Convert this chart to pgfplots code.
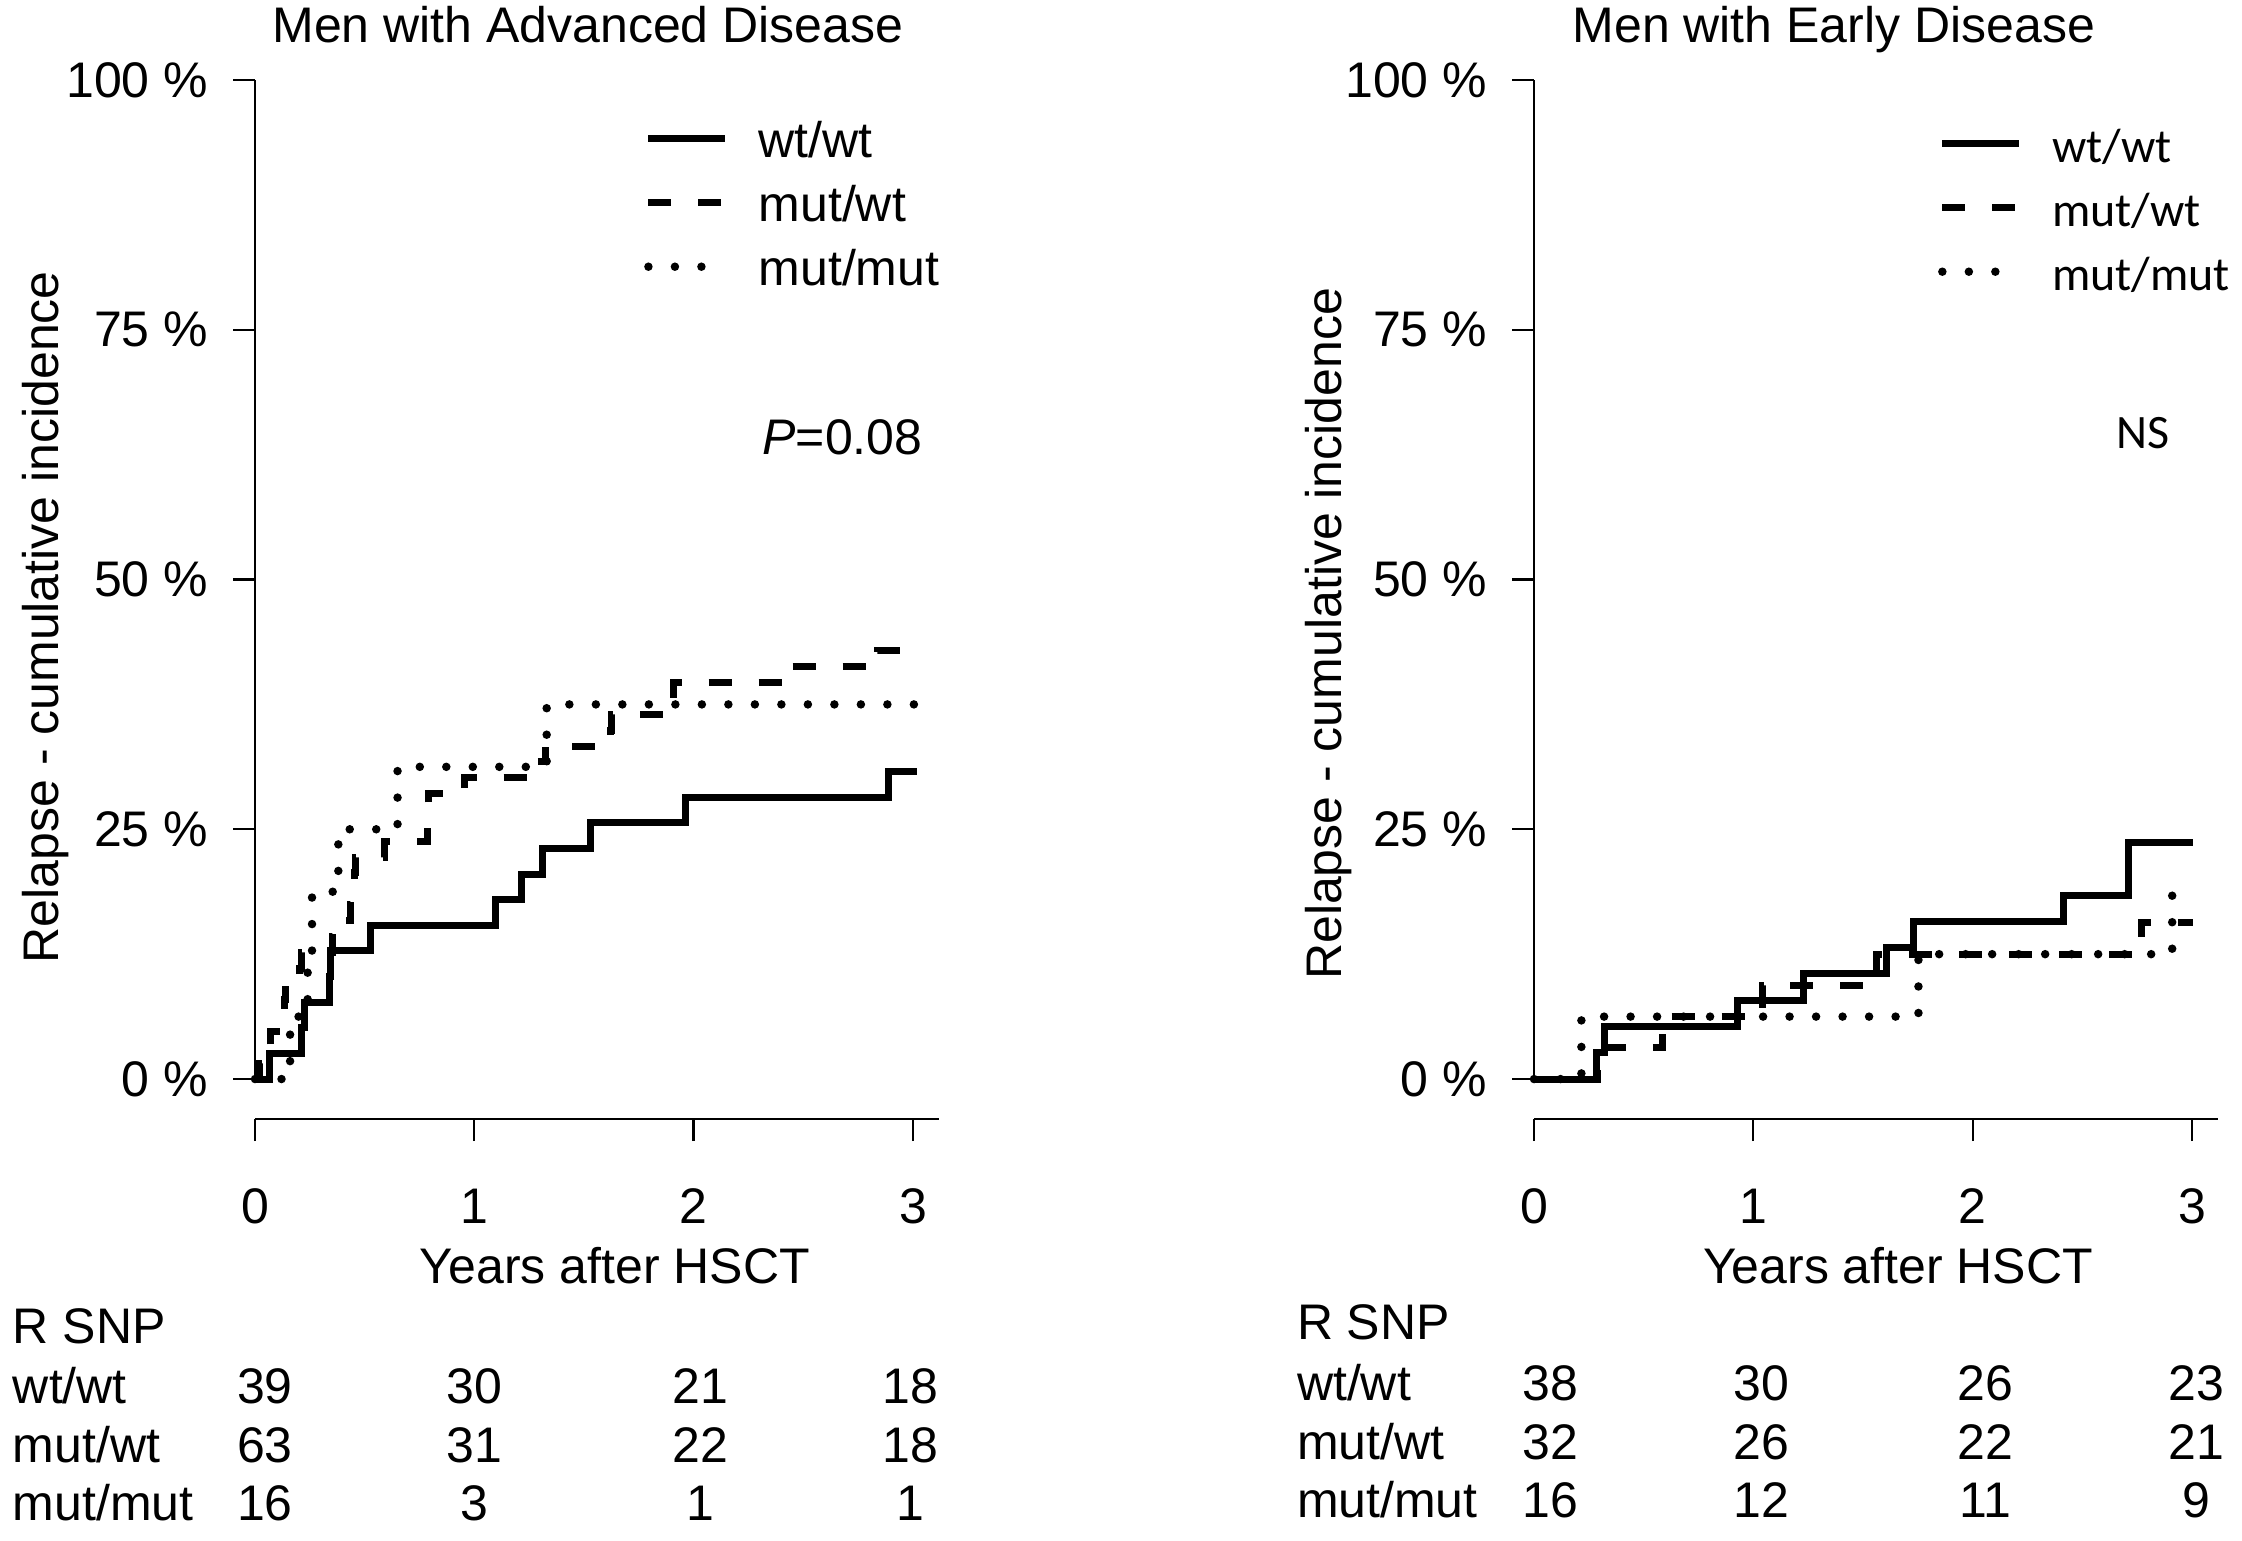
\documentclass[border=0pt]{standalone}
\usepackage{fontspec}
\setmainfont{Liberation Sans}
\newfontfamily\carlito{Carlito}
\usepackage{pgfplots}
\pgfplotsset{compat=1.18}

% 1 px of the reference = 0.2pt
\pgfplotsset{
  kmaxis/.style={
    scale only axis, width=138.16pt, height=207.8pt,
    xmin=0, xmax=3.15, ymin=-4, ymax=100,
    axis x line*=bottom, axis y line*=left,
    axis line style={draw=none},
    tick align=outside, major tick length=4.4pt,
    tick style={black, line width=0.45pt},
    xtick={0,1,2,3}, xticklabels={0,1,2,3},
    ytick={0,25,50,75,100},
    yticklabels={0 \%,25 \%,50 \%,75 \%,100 \%},
    yticklabel style={anchor=east, inner sep=0pt, xshift=-4.8pt},
    xticklabel style={anchor=base, inner sep=0pt, yshift=-16.4pt},
    clip=false,
    xlabel={Years after HSCT},
    ylabel={Relapse - cumulative incidence},
    legend cell align=left,
  },
  wt/.style={black, line width=1.4pt, const plot},
  mw/.style={black, line width=1.4pt, const plot, dash pattern=on 4.6pt off 5.4pt},
  mm/.style={black, line width=1.7pt, const plot, line cap=round, dash pattern=on 0pt off 5.3pt},
  legend image code/.code={\draw[#1] (0pt,0pt) -- (15.4pt,0pt);},
}

\begin{document}
\begin{tikzpicture}
\path[use as bounding box] (0,0) rectangle (448.4pt,308pt);

% ---------------- left: advanced disease
\begin{axis}[kmaxis,
  at={(51pt,84.2pt)}, anchor=south west,
  title={Men with Advanced Disease},
  title style={at={(axis description cs:0.482,1)}, anchor=base, yshift=1.4pt, inner sep=0pt},
  xlabel style={at={(axis description cs:0.521,0)}, anchor=base, yshift=-32.8pt, inner sep=0pt},
  ylabel style={at={(axis description cs:-0.3025,0.483)}, anchor=center, inner sep=0pt},
  legend style={at={(axis cs:1.77,96.1)}, anchor=north west, draw=none, fill=none,
    inner sep=0pt, row sep=5.3pt, column sep=5.8pt,
    nodes={inner sep=0pt, text height=7.5pt, text depth=0pt}},
]
\draw[line width=0.45pt] (axis cs:0,0) -- (axis cs:0,100);
\draw[line width=0.45pt] (axis cs:0,-4) -- (axis cs:3.12,-4);

\addplot[wt] coordinates {
 (0,0) (0.067,2.56) (0.21,5.13) (0.225,7.69) (0.34,10.26) (0.345,12.82)
 (0.527,15.38) (1.096,17.95) (1.214,20.51) (1.31,23.08) (1.53,25.64)
 (1.965,28.21) (2.888,30.77) (3.02,30.77)};
\addlegendentry{wt/wt}
\addplot[mw] coordinates {
 (0,0) (0.02,1.59) (0.067,3.17) (0.07,4.76) (0.133,6.35) (0.135,7.94)
 (0.137,9.52) (0.205,11.11) (0.21,12.70) (0.353,14.29) (0.355,15.87)
 (0.435,17.46) (0.437,19.05) (0.455,20.63) (0.457,22.22) (0.59,23.81)
 (0.786,25.40) (0.788,26.98) (0.79,28.57) (0.953,30.16) (1.25,31.75)
 (1.326,33.33) (1.622,34.92) (1.625,36.51) (1.908,38.10) (1.91,39.68)
 (2.43,41.27) (2.84,42.86) (3.0,42.86)};
\addlegendentry{mut/wt}
\addplot[mm] coordinates {
 (0,0) (0.16,6.25) (0.24,12.5) (0.26,18.75) (0.38,25) (0.65,31.25)
 (1.33,37.5) (3.02,37.5)};
\addlegendentry{mut/mut}

\node[anchor=base west, inner sep=0pt] at (axis cs:2.31,62.5) {\textit{P}=0.08};
\end{axis}

% ---------------- right: early disease
\begin{axis}[kmaxis,
  at={(306.8pt,84.2pt)}, anchor=south west,
  title={Men with Early Disease},
  title style={at={(axis description cs:0.434,1)}, anchor=base, yshift=1.4pt, inner sep=0pt},
  xlabel style={at={(axis description cs:0.527,0)}, anchor=base, yshift=-32.8pt, inner sep=0pt},
  ylabel style={at={(axis description cs:-0.298,0.467)}, anchor=center, inner sep=0pt},
  legend style={at={(axis cs:1.838,95.6)}, anchor=north west, draw=none, fill=none,
    inner sep=0pt, row sep=5.3pt, column sep=5.7pt,
    font=\carlito\fontsize{9.6}{11.5}\selectfont,
    nodes={inner sep=0pt, text height=7.5pt, text depth=0pt}},
]
\draw[line width=0.45pt] (axis cs:0,0) -- (axis cs:0,100);
\draw[line width=0.45pt] (axis cs:0,-4) -- (axis cs:3.12,-4);

\addplot[wt] coordinates {
 (0,0) (0.287,2.63) (0.323,5.26) (0.927,7.89) (1.231,10.53) (1.609,13.16)
 (1.732,15.79) (2.415,18.42) (2.709,23.68) (3.004,23.68)};
\addlegendentry{wt/wt}
\addplot[mw] coordinates {
 (0,0) (0.29,3.125) (0.585,6.25) (1.042,9.375) (1.563,12.5) (2.771,15.625)
 (3.004,15.625)};
\addlegendentry{mut/wt}
\addplot[mm] coordinates {
 (0,0) (0.216,6.25) (1.753,12.5) (2.91,18.75)};
\addlegendentry{mut/mut}

\node[anchor=base west, inner sep=0pt, font=\carlito\fontsize{9.6}{11.5}\selectfont]
  at (axis cs:2.65,63.1) {NS};
\end{axis}

% ---------------- numbers at risk
\begin{scope}[every node/.style={inner sep=0pt}]
\node[anchor=base west] at (2.4pt,39.4pt) {R SNP};
\node[anchor=base west] at (2.4pt,27.4pt) {wt/wt};
\node[anchor=base west] at (2.4pt,15.6pt) {mut/wt};
\node[anchor=base west] at (2.4pt,4.0pt) {mut/mut};
\foreach \x/\a/\b/\c in {53/39/63/16, 94.8/30/31/3, 140/21/22/1, 182/18/18/1} {
  \node[anchor=base] at (\x pt,27.4pt) {\a};
  \node[anchor=base] at (\x pt,15.6pt) {\b};
  \node[anchor=base] at (\x pt,4.0pt) {\c};
}
\node[anchor=base west] at (259.2pt,40.2pt) {R SNP};
\node[anchor=base west] at (259.2pt,28.0pt) {wt/wt};
\node[anchor=base west] at (259.2pt,16.2pt) {mut/wt};
\node[anchor=base west] at (259.2pt,4.6pt) {mut/mut};
\foreach \x/\a/\b/\c in {310/38/32/16, 352.2/30/26/12, 397/26/22/11, 439.2/23/21/9} {
  \node[anchor=base] at (\x pt,28.0pt) {\a};
  \node[anchor=base] at (\x pt,16.2pt) {\b};
  \node[anchor=base] at (\x pt,4.6pt) {\c};
}
\end{scope}
\end{tikzpicture}
\end{document}
